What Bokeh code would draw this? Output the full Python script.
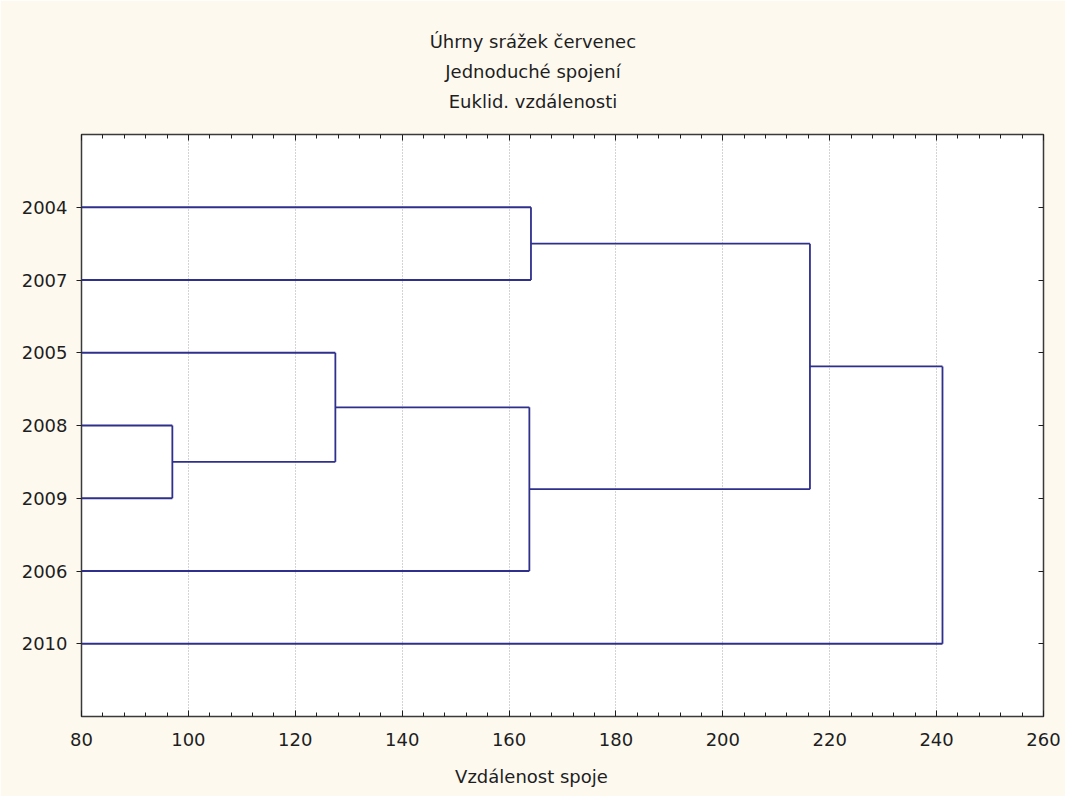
from bokeh.plotting import figure
from bokeh.models import Range1d, LinearAxis, FixedTicker, Title
from bokeh.embed import file_html
from bokeh.resources import INLINE

# ---- data ----
title_lines = ["Úhrny srážek červenec", "Jednoduché spojení", "Euklid. vzdálenosti"]
x_label = "Vzdálenost spoje"
leaves = ["2004", "2007", "2005", "2008", "2009", "2006", "2010"]
# merges: node ids 0..6 are leaves, 7.. are clusters in merge order
merge_a = [3, 2, 0, 8, 9, 11]
merge_b = [4, 7, 1, 5, 10, 6]
merge_dist = [97.0, 127.5, 164.1, 163.8, 216.3, 241.1]
x_min, x_max = 80, 260
x_ticks = [80, 100, 120, 140, 160, 180, 200, 220, 240, 260]

# ---- compute dendrogram segments ----
node_x = {i: x_min for i in range(len(leaves))}
node_y = {i: i + 1 for i in range(len(leaves))}
x0s, y0s, x1s, y1s = [], [], [], []
for k, (a, b, d) in enumerate(zip(merge_a, merge_b, merge_dist)):
    nid = len(leaves) + k
    for c in (a, b):
        x0s.append(node_x[c]); y0s.append(node_y[c]); x1s.append(d); y1s.append(node_y[c])
    x0s.append(d); y0s.append(node_y[a]); x1s.append(d); y1s.append(node_y[b])
    node_x[nid] = d
    node_y[nid] = (node_y[a] + node_y[b]) / 2

FONT = "DejaVu Sans"
BG = "#fdf9ef"
INK = "#1e1e1e"

W, H = 1065, 796
BL, BR, BT, BB = 81, 22, 134, 80
y_top, y_bot = 0, len(leaves) + 1

p = figure(width=W, height=H, output_backend="svg", toolbar_location=None,
           x_range=Range1d(x_min, x_max), y_range=Range1d(y_bot, y_top),
           min_border_left=BL, min_border_right=BR, min_border_top=BT, min_border_bottom=BB,
           x_axis_location="below", y_axis_location="left")
p.border_fill_color = BG
p.background_fill_color = "white"
p.outline_line_color = "#3a3a3a"
p.outline_line_width = 1.5

p.segment(x0s, y0s, x1s, y1s, line_color="#2f2f8c", line_width=1.8)

# grid
p.ygrid.visible = False
p.xgrid.ticker = FixedTicker(ticks=x_ticks)
p.xgrid.grid_line_color = "#a8a8a8"
p.xgrid.grid_line_dash = "1 2"
p.xgrid.grid_line_width = 1

minor = [v for v in range(x_min, x_max + 1, 4) if v not in x_ticks]

def style_x(ax, show_labels, standoff):
    ax.ticker = FixedTicker(ticks=x_ticks, minor_ticks=minor)
    ax.major_tick_in = 6
    ax.major_tick_out = 0
    ax.minor_tick_in = 4
    ax.minor_tick_out = 0
    ax.major_tick_line_color = INK
    ax.minor_tick_line_color = INK
    ax.axis_line_color = None
    ax.major_label_standoff = standoff
    if show_labels:
        ax.major_label_text_font = FONT
        ax.major_label_text_font_size = "18px"
        ax.major_label_text_color = INK
    else:
        ax.major_label_text_font_size = "0px"

def spacer_axis(extent):
    # invisible axis used only to reserve vertical space in a side panel
    ax = LinearAxis(ticker=FixedTicker(ticks=[x_min], minor_ticks=[]))
    ax.major_tick_in = 0
    ax.major_tick_out = extent
    ax.major_tick_line_alpha = 0
    ax.minor_tick_line_alpha = 0
    ax.axis_line_alpha = 0
    ax.major_label_text_font_size = "0px"
    ax.major_label_standoff = 0
    return ax

style_x(p.xaxis[0], True, 16)
p.add_layout(spacer_axis(7), "below")

top = LinearAxis()
style_x(top, False, 0)
p.add_layout(top, "above")
p.add_layout(spacer_axis(19), "above")

yticks = list(range(1, len(leaves) + 1))
overrides = {i + 1: name for i, name in enumerate(leaves)}

ya = p.yaxis[0]
ya.ticker = FixedTicker(ticks=yticks)
ya.major_label_overrides = overrides
ya.major_tick_in = 0
ya.major_tick_out = 5
ya.minor_tick_line_color = None
ya.major_tick_line_color = INK
ya.axis_line_color = None
ya.major_label_text_font = FONT
ya.major_label_text_font_size = "18px"
ya.major_label_text_color = INK
ya.major_label_standoff = 9

ra = LinearAxis(ticker=FixedTicker(ticks=yticks))
ra.major_tick_in = 5
ra.major_tick_out = 0
ra.minor_tick_line_color = None
ra.major_tick_line_color = INK
ra.axis_line_color = None
ra.major_label_text_font_size = "0px"
ra.major_label_standoff = 0
p.add_layout(ra, "right")

# Titles: left-aligned with offsets so that each line is centred on the page
# (estimated DejaVu Sans 18px text widths)
title_widths = [206.7, 175.5, 168.6]
page_cx = 532.5
for txt, w in reversed(list(zip(title_lines, title_widths))):
    p.add_layout(Title(text=txt, align="left", offset=page_cx - BL - w / 2,
                       text_font=FONT, text_font_size="18px", text_font_style="normal",
                       text_color=INK, standoff=7), "above")

xl_w = 152.8
p.add_layout(Title(text=x_label, align="left", offset=531 - BL - xl_w / 2,
                   text_font=FONT, text_font_size="18px", text_font_style="normal",
                   text_color=INK, standoff=16), "below")

open("out.html", "w").write(file_html(p, INLINE))
